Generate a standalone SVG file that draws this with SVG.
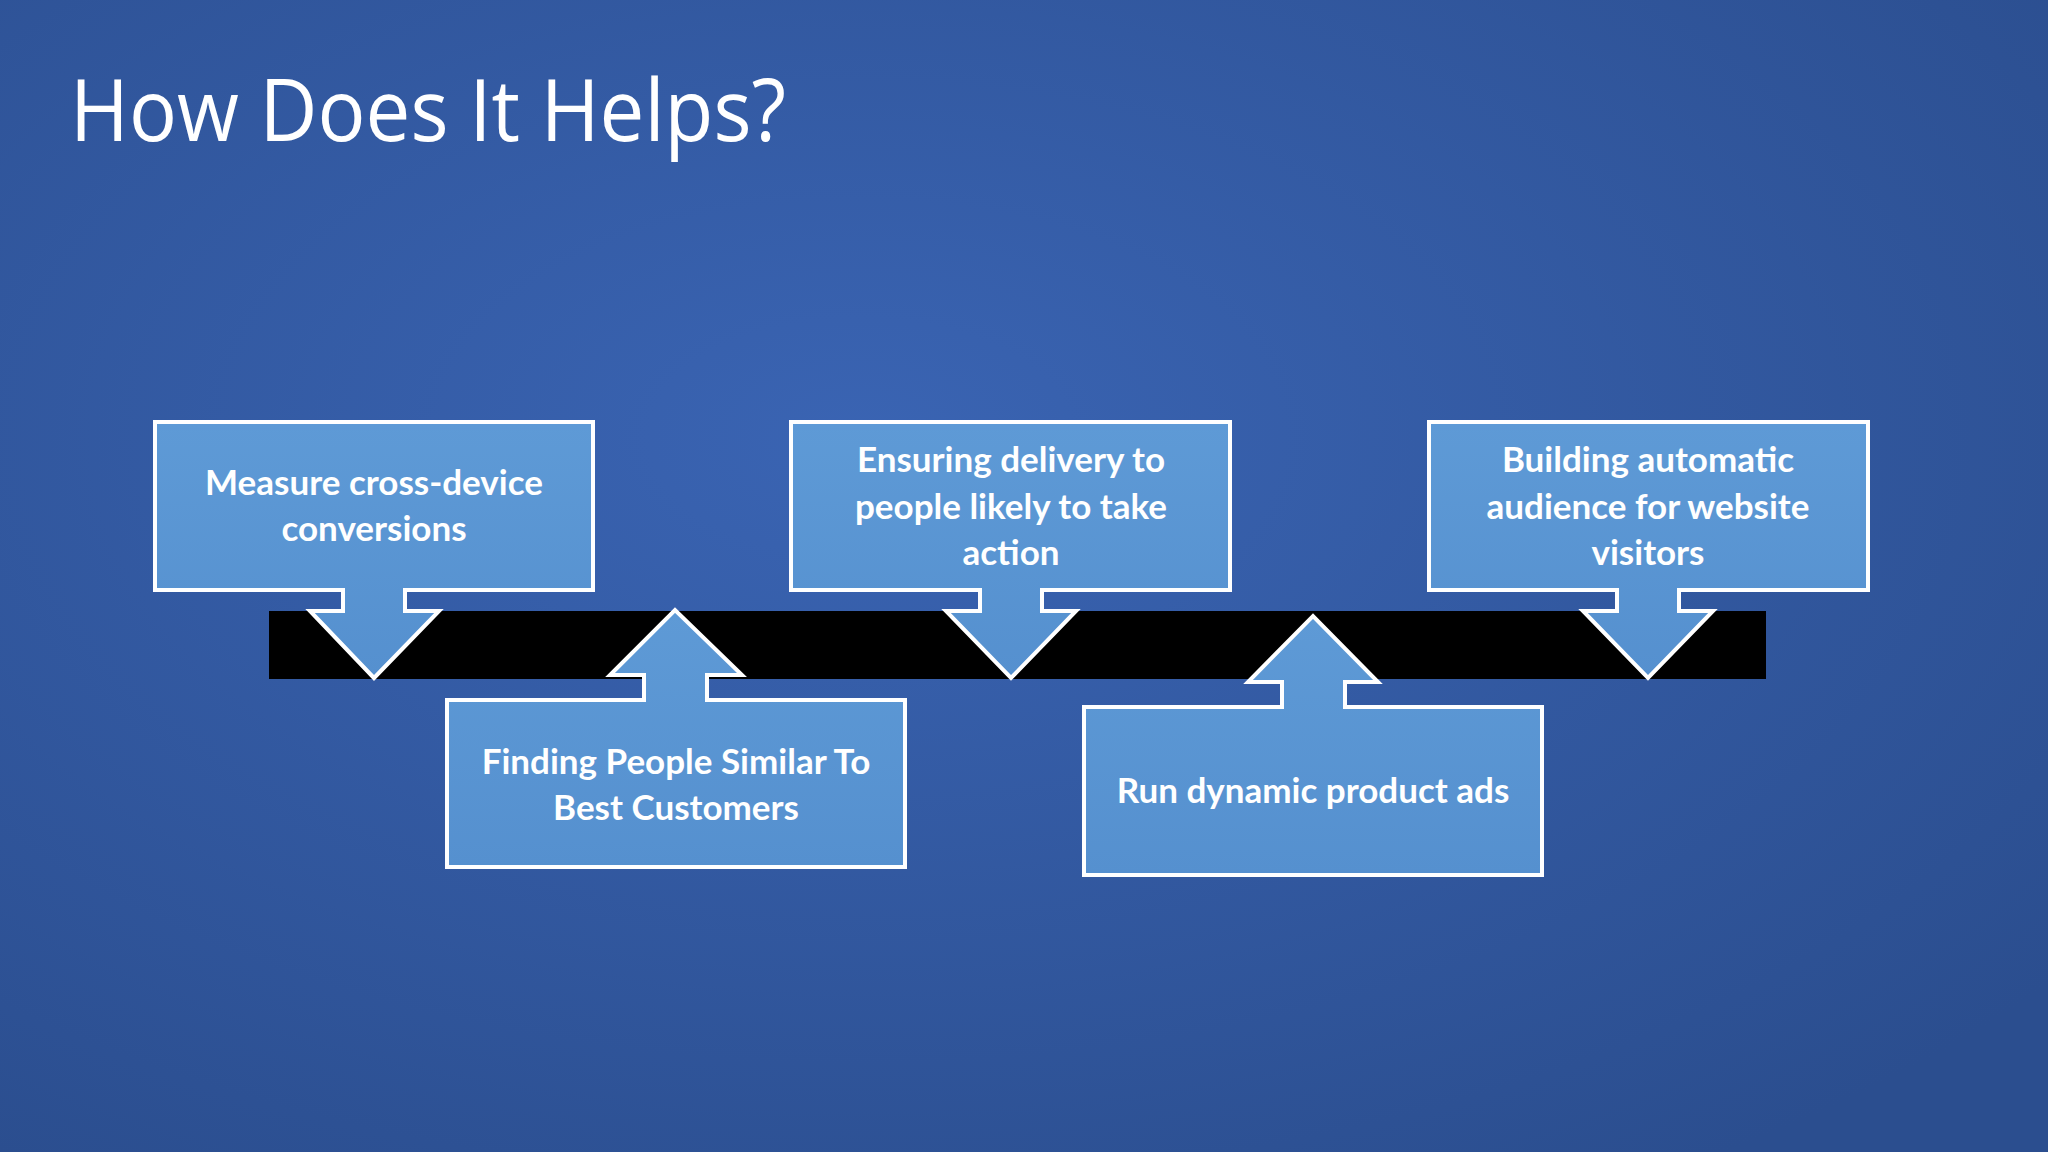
<svg xmlns="http://www.w3.org/2000/svg" width="2048" height="1152" viewBox="0 0 2048 1152">
<defs>
<radialGradient id="bg" cx="0.42" cy="0.38" r="0.75">
<stop offset="0" stop-color="#3a64b3"/>
<stop offset="1" stop-color="#2b4e8f"/>
</radialGradient>
<linearGradient id="bx" x1="0" y1="0" x2="0" y2="1">
<stop offset="0" stop-color="#5e9ad6"/>
<stop offset="1" stop-color="#5590cf"/>
</linearGradient>
<style>
.n{fill:url(#bx);stroke:#ffffff;stroke-width:4;stroke-linejoin:miter}
.t{font-family:Lato,"Open Sans",sans-serif;font-weight:bold;font-size:35px;fill:#ffffff;text-anchor:middle}
</style>
</defs>
<rect width="2048" height="1152" fill="url(#bg)"/>
<text x="70" y="141" font-family="'Open Sans',sans-serif" font-size="86" textLength="716" lengthAdjust="spacingAndGlyphs" fill="#ffffff">How Does It Helps?</text>
<g id="connectors">
<rect id="bar" x="269" y="611" width="1497" height="68" fill="#000000"/>
</g>
<g id="n1">
<path class="n" d="M155,422 H593 V590 H405 V611 H439 L374,678 L310,611 H343 V590 H155 Z"/>
<text class="t" x="374" y="495">Measure cross-device</text>
<text class="t" x="374" y="541">conversions</text>
</g>
<g id="n2">
<path class="n" d="M447,700 H644 V675 H610 L675,610 L742,675 H707 V700 H905 V867 H447 Z"/>
<text class="t" x="676" y="774">Finding People Similar To</text>
<text class="t" x="676" y="820">Best Customers</text>
</g>
<g id="n3">
<path class="n" d="M791,422 H1230 V590 H1042 V611 H1076 L1011,678 L946,611 H980 V590 H791 Z"/>
<text class="t" x="1011" y="472">Ensuring delivery to</text>
<text class="t" x="1011" y="519">people likely to take</text>
<text class="t" x="1011" y="565">action</text>
</g>
<g id="n4">
<path class="n" d="M1429,422 H1868 V590 H1679 V611 H1713 L1648,678 L1583,611 H1617 V590 H1429 Z"/>
<text class="t" x="1648" y="472">Building automatic</text>
<text class="t" x="1648" y="519">audience for website</text>
<text class="t" x="1648" y="565">visitors</text>
</g>
<g id="n5">
<path class="n" d="M1084,707 H1282 V682 H1248 L1313,616 L1378,682 H1345 V707 H1542 V875 H1084 Z"/>
<text class="t" x="1313" y="803">Run dynamic product ads</text>
</g>
</svg>
